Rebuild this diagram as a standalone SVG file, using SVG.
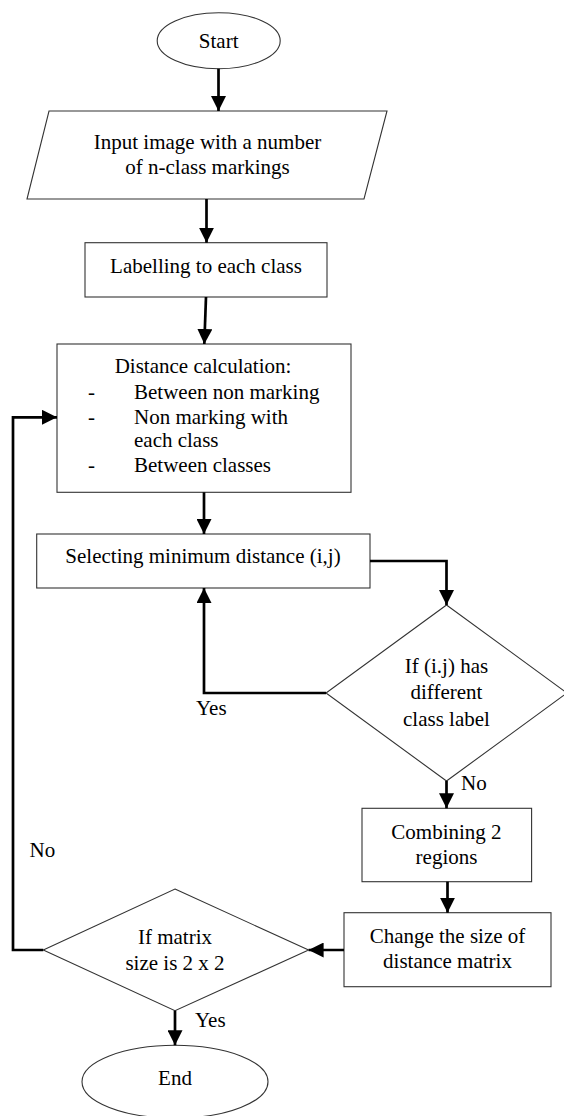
<svg xmlns="http://www.w3.org/2000/svg" width="564" height="1116" viewBox="0 0 564 1116" font-family="'Liberation Serif', 'Times New Roman', 'DejaVu Serif', serif" font-size="21">
<style>
.shape{fill:#fff;stroke:#333;stroke-width:1.1}
.conn{fill:none;stroke:#000;stroke-width:2.7}
text{font-family:'Liberation Serif','Times New Roman','DejaVu Serif',serif;font-size:21px;fill:#000}
.c{text-anchor:middle}
</style>
<defs>
<marker id="ah" markerUnits="userSpaceOnUse" viewBox="0 0 15 15" refX="15" refY="7.5" markerWidth="15" markerHeight="15" orient="auto">
<path d="M0,0 L15,7.5 L0,15 z" fill="#000"/>
</marker>
</defs>
<rect width="564" height="1116" fill="#fff"/>
<g id="start">
<ellipse class="shape" cx="218.7" cy="40.7" rx="61.5" ry="28"/>
<text class="c" x="218.7" y="48.3">Start</text>
</g>
<g id="input">
<polygon class="shape" points="49,111 387,111 364,199 27,199"/>
<text class="c" x="207.5" y="149">Input image with a number</text>
<text class="c" x="207.5" y="174">of n-class markings</text>
</g>
<g id="labelling">
<rect class="shape" x="85" y="242.7" width="242" height="54.3"/>
<text class="c" x="206" y="273">Labelling to each class</text>
</g>
<g id="distance">
<rect class="shape" x="57" y="344" width="294" height="148.3"/>
<text class="c" x="203" y="373.3">Distance calculation:</text>
<text x="88" y="399">-</text><text x="134" y="399">Between non marking</text>
<text x="88" y="424">-</text><text x="134" y="424">Non marking with</text>
<text x="134" y="447.3">each class</text>
<text x="88" y="472.3">-</text><text x="134" y="472.3">Between classes</text>
</g>
<g id="selecting">
<rect class="shape" x="36.7" y="534" width="333.3" height="54"/>
<text class="c" x="203" y="563.3">Selecting minimum distance (i,j)</text>
</g>
<g id="decision1">
<polygon class="shape" points="446.5,605 567,693 446.5,781 326,693"/>
<text class="c" x="446.5" y="673.3">If (i.j) has</text>
<text class="c" x="446.5" y="699">different</text>
<text class="c" x="446.5" y="725.7">class label</text>
</g>
<g id="combining">
<rect class="shape" x="362" y="808.3" width="169.6" height="73.4"/>
<text class="c" x="446.5" y="839">Combining 2</text>
<text class="c" x="446.5" y="864.3">regions</text>
</g>
<g id="change">
<rect class="shape" x="344" y="912.7" width="207" height="74"/>
<text class="c" x="447.5" y="943.3">Change the size of</text>
<text class="c" x="447.5" y="968.3">distance matrix</text>
</g>
<g id="decision2">
<polygon class="shape" points="175,889 308.6,950 175,1010.7 43.3,950"/>
<text class="c" x="175" y="944.3">If matrix</text>
<text class="c" x="175" y="970">size is 2 x 2</text>
</g>
<g id="end">
<ellipse class="shape" cx="175" cy="1081.7" rx="93" ry="36.4"/>
<text class="c" x="175" y="1085">End</text>
</g>
<g id="connectors">
<line class="conn" x1="218.5" y1="68.7" x2="218.5" y2="111" marker-end="url(#ah)"/>
<line class="conn" x1="206.5" y1="199" x2="206.5" y2="242.7" marker-end="url(#ah)"/>
<line class="conn" x1="206" y1="297" x2="204.3" y2="344" marker-end="url(#ah)"/>
<line class="conn" x1="204" y1="492.3" x2="204" y2="534" marker-end="url(#ah)"/>
<polyline class="conn" points="370,561 446.5,561 446.5,605" marker-end="url(#ah)"/>
<polyline class="conn" points="326,693 204,693 204,588" marker-end="url(#ah)"/>
<line class="conn" x1="446.5" y1="781" x2="446.5" y2="808.3" marker-end="url(#ah)"/>
<line class="conn" x1="447.5" y1="881.7" x2="447.5" y2="912.7" marker-end="url(#ah)"/>
<line class="conn" x1="344" y1="950" x2="308.6" y2="950" marker-end="url(#ah)"/>
<polyline class="conn" points="43.3,950 13,950 13,417.3 57,417.3" marker-end="url(#ah)"/>
<line class="conn" x1="175" y1="1010.7" x2="175" y2="1045.3" marker-end="url(#ah)"/>
<text x="196" y="715">Yes</text>
<text x="461" y="790">No</text>
<text x="29.5" y="857.3">No</text>
<text x="195" y="1026.7">Yes</text>
</g>
</svg>
